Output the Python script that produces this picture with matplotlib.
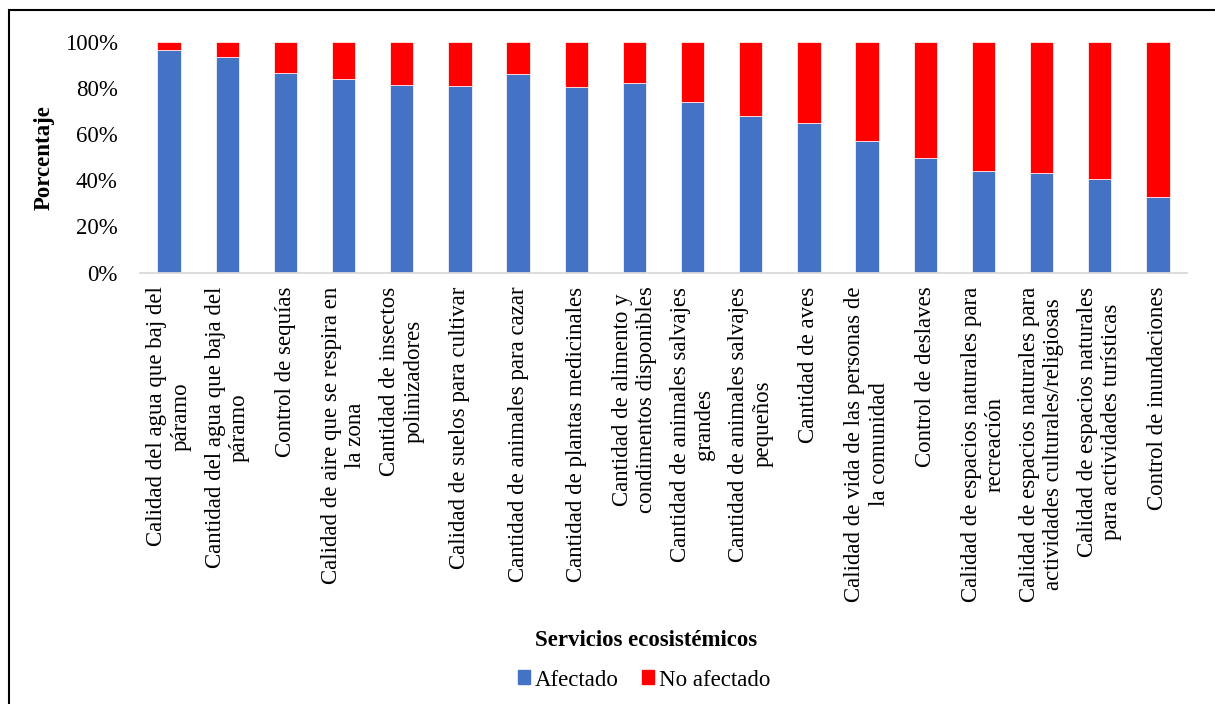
import matplotlib.pyplot as plt
from matplotlib.patches import Patch, Rectangle
from matplotlib.ticker import FuncFormatter

plt.rcParams["font.family"] = ["Liberation Serif", "DejaVu Serif"]

# servicios ecosistémicos evaluados
servicios = [
    "Calidad del agua que baj del\npáramo",
    "Cantidad del agua que baja del\npáramo",
    "Control de sequías",
    "Calidad de aire que se respira en\nla zona",
    "Cantidad de insectos\npolinizadores",
    "Calidad de suelos para cultivar",
    "Cantidad de animales para cazar",
    "Cantidad de plantas medicinales",
    "Cantidad de alimento y\ncondimentos disponibles",
    "Cantidad de animales salvajes\ngrandes",
    "Cantidad de animales salvajes\npequeños",
    "Cantidad de aves",
    "Calidad de vida de las personas de\nla comunidad",
    "Control de deslaves",
    "Calidad de espacios naturales para\nrecreación",
    "Calidad de espacios naturales para\nactividades culturales/religiosas",
    "Calidad de espacios naturales\npara actividades turísticas",
    "Control de inundaciones",
]

# porcentaje de respuestas
afectado = [96.4, 93.5, 86.3, 84.0, 81.3, 80.7, 86.1, 80.4, 82.0,
            73.9, 67.7, 64.9, 56.9, 49.5, 43.9, 43.0, 40.4, 32.8]
no_afectado = [3.6, 6.5, 13.7, 16.0, 18.7, 19.3, 13.9, 19.6, 18.0,
               26.1, 32.3, 35.1, 43.1, 50.5, 56.1, 57.0, 59.6, 67.2]

AZUL = "#4472C4"
ROJO = "#FF0000"
FS = 16.5

W, H = 1215, 704
fig = plt.figure(figsize=(W / 100, H / 100), dpi=100)
ax = fig.add_axes([140 / W, 1 - 272.7 / H, 1047 / W, 231 / H])

x = range(len(servicios))
ax.bar(x, afectado, width=0.4, color=AZUL, edgecolor="white", linewidth=0.5)
ax.bar(x, no_afectado, width=0.4, bottom=afectado, color=ROJO,
       edgecolor="white", linewidth=0.5)

ax.set_xlim(-0.5, len(servicios) - 0.5)
ax.set_ylim(0, 100)
ax.set_yticks([0, 20, 40, 60, 80, 100])
ax.yaxis.set_major_formatter(FuncFormatter(lambda v, p: f"{v:.0f}%"))
ax.set_xticks(list(x))
ax.set_xticklabels(servicios, rotation=90, ha="center", va="top",
                   multialignment="center", fontsize=FS)
ax.tick_params(axis="x", length=0, pad=10)
ax.tick_params(axis="y", length=0, pad=16, labelsize=FS)

for s in ["top", "right", "left"]:
    ax.spines[s].set_visible(False)
ax.spines["bottom"].set_color("#d9d9d9")
ax.spines["bottom"].set_linewidth(1.3)

ax.set_ylabel("Porcentaje", fontsize=FS, fontweight="bold", va="center", ha="center")
ax.yaxis.set_label_coords((44 - 140) / 1047, 0.5)
ax.set_xlabel("Servicios ecosistémicos", fontsize=FS, fontweight="bold", va="baseline")
ax.xaxis.set_label_coords((646 - 140) / 1047, (272.7 - 646) / 231)

handles = [Patch(color=AZUL, label="Afectado"), Patch(color=ROJO, label="No afectado")]
fig.legend(handles=handles, loc="center", ncol=2, frameon=False, fontsize=FS,
           handlelength=0.55, handleheight=0.55, handletextpad=0.2,
           columnspacing=1.0, bbox_to_anchor=(644 / W, 1 - 680 / H))

# marco exterior del gráfico
fig.add_artist(Rectangle((9 / W, -0.1), 1.2, 1.1 - 10 / H, transform=fig.transFigure,
                         fill=False, edgecolor="black", linewidth=1.5))

fig.savefig("out.png", dpi=100)
